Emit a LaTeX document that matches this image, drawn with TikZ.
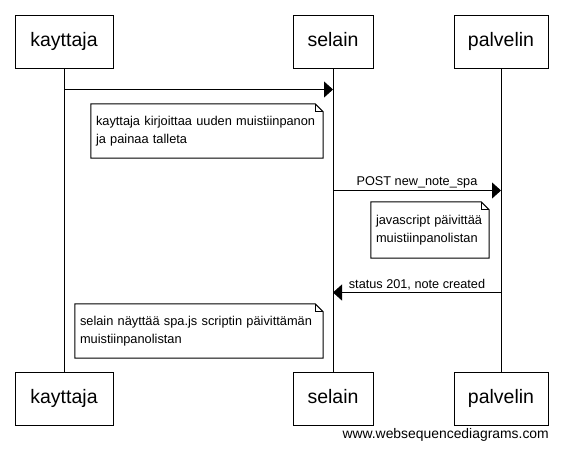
\documentclass[tikz,border=0pt]{standalone}
\usepackage{fontspec}
\setmainfont{Liberation Sans}
\usetikzlibrary{arrows.meta}

\tikzset{
  actor/.style={draw, line width=1pt, minimum height=53pt, inner sep=0pt,
    text height=14pt, text depth=4pt, font=\fontsize{19.5}{22}\selectfont},
  lifeline/.style={line width=1pt},
  msg/.style={line width=1pt, -{Triangle[length=9pt,width=16pt]}},
  msglabel/.style={font=\fontsize{12.7}{15}\selectfont, inner sep=2pt},
  notebox/.style={inner xsep=5pt, inner ysep=0pt, align=left,
    font=\fontsize{12.8}{18}\selectfont},
}
% note outline with folded corner
\newcommand\foldnote[1]{%
  \draw[line width=1pt] (#1.north west) -- ([xshift=-8pt]#1.north east)
    -- ([yshift=-8pt]#1.north east) -- (#1.south east) -- (#1.south west) -- cycle;
  \draw[line width=0.8pt] ([xshift=-8pt]#1.north east) |- ([yshift=-8pt]#1.north east);}

\begin{document}
\begin{tikzpicture}[x=1pt, y=-1pt]
\useasboundingbox (0,0) rectangle (562,450);
% participants
    \node[actor, minimum width=98pt] (k_top) at (64,41.5) {kayttaja};
    \node[actor, minimum width=80pt] (s_top) at (333,41.5) {selain};
    \node[actor, minimum width=94pt] (p_top) at (501,41.5) {palvelin};
    \node[actor, minimum width=98pt] (k_bot) at (64,398.5) {kayttaja};
    \node[actor, minimum width=80pt] (s_bot) at (333,398.5) {selain};
    \node[actor, minimum width=94pt] (p_bot) at (501,398.5) {palvelin};
% lifelines
    \draw[lifeline] (k_top) -- (k_bot);
    \draw[lifeline] (s_top) -- (s_bot);
    \draw[lifeline] (p_top) -- (p_bot);
% messages
    \draw[msg] ([yshift=-21pt]k_top.south) -- ([yshift=-21pt]s_top.south);
    \draw[msg] ([yshift=-122pt]s_top.south) -- node[msglabel, above] {POST new\_note\_spa}
      ([yshift=-122pt]p_top.south);
    \draw[msg] ([yshift=-224pt]p_top.south) -- node[msglabel, above] {status 201, note created}
      ([yshift=-224pt]s_top.south);
% notes
    \node[notebox, text width=222pt, minimum height=54pt] (note1) at (207,131)
      {kayttaja kirjoittaa uuden muistiinpanon\\ja painaa talleta};
    \foldnote{note1}
    \node[notebox, text width=108pt, minimum height=56pt] (note2) at (430,230)
      {javascript päivittää\\muistiinpanolistan};
    \foldnote{note2}
    \node[notebox, text width=238pt, minimum height=54pt] (note3) at (199,331)
      {selain näyttää spa.js scriptin päivittämän\\muistiinpanolistan};
    \foldnote{note3}
% watermark
    \node[font=\fontsize{13.9}{16}\selectfont, inner sep=0pt, anchor=east] (wsd) at (549,435)
      {www.websequencediagrams.com};
\end{tikzpicture}
\end{document}
